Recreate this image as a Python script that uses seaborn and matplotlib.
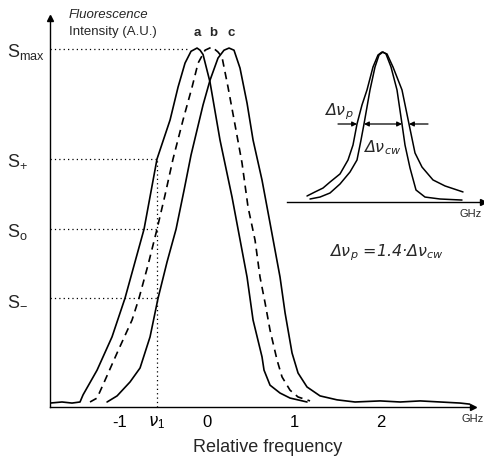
import numpy as np
import pandas as pd
import matplotlib
matplotlib.use("Agg")
import matplotlib.pyplot as plt
import seaborn as sns

sns.set_theme(style="white")
plt.rcParams['font.family'] = ['Liberation Sans', 'DejaVu Sans']
plt.rcParams['mathtext.fontset'] = 'dejavusans'
plt.rcParams['mathtext.default'] = 'regular'

# ---------------- data (main chart) ----------------
a_x = [-1.805, -1.667, -1.552, -1.46, -1.425, -1.264, -1.092, -0.943, -0.724, -0.575,
       -0.425, -0.333, -0.253, -0.184, -0.115, -0.080, -0.046, 0.034, 0.149, 0.287,
       0.46, 0.529, 0.632, 0.655, 0.724, 0.839, 0.954, 1.149]
a_y = [0.011, 0.014, 0.011, 0.014, 0.034, 0.103, 0.196, 0.304, 0.497, 0.693,
       0.802, 0.894, 0.961, 0.994, 1.003, 0.997, 0.985, 0.908, 0.746, 0.587,
       0.363, 0.243, 0.140, 0.103, 0.061, 0.039, 0.025, 0.014]

b_x = [-1.345, -1.264, -1.172, -1.034, -0.862, -0.782, -0.678, -0.575, -0.483, -0.391,
       -0.276, -0.172, -0.103, -0.023, 0.057, 0.126, 0.172, 0.241, 0.322, 0.402,
       0.471, 0.552, 0.609, 0.667, 0.724, 0.805, 0.862, 0.954, 1.046, 1.184]
b_y = [0.014, 0.025, 0.075, 0.151, 0.243, 0.304, 0.397, 0.497, 0.592, 0.693,
       0.802, 0.894, 0.961, 0.997, 1.006, 0.992, 0.978, 0.894, 0.788, 0.682,
       0.559, 0.466, 0.363, 0.291, 0.215, 0.131, 0.084, 0.047, 0.028, 0.017]

c_x = [-1.149, -1.034, -0.885, -0.770, -0.655, -0.563, -0.460, -0.356, -0.264, -0.184,
       -0.115, -0.046, 0.034, 0.126, 0.195, 0.253, 0.310, 0.379, 0.460, 0.529,
       0.632, 0.724, 0.839, 0.897, 0.977, 1.046, 1.149, 1.299, 1.494, 1.701,
       1.99, 2.22, 2.45, 2.68, 2.91, 3.02]
c_y = [0.014, 0.031, 0.070, 0.109, 0.196, 0.304, 0.405, 0.497, 0.606, 0.704,
       0.774, 0.844, 0.913, 0.975, 0.997, 1.003, 0.997, 0.947, 0.849, 0.746,
       0.634, 0.514, 0.363, 0.263, 0.151, 0.095, 0.056, 0.031, 0.020, 0.014,
       0.017, 0.014, 0.017, 0.014, 0.011, 0.008]

curve_labels = ['a', 'b', 'c']
label_x = [-0.115, 0.069, 0.276]

level_names = [r'S$_{max}$', r'S$_{+}$', r'S$_{o}$', r'S$_{-}$']
level_vals = [1.0, 0.693, 0.497, 0.304]
nu1 = -0.575

xtick_vals = [-1, nu1, 0, 1, 2]
xtick_text = ['-1', r'$\mathit{\nu}_1$', '0', '1', '2']

# ---------------- data (inset) ----------------
p_x = [-1.875, -1.675, -1.475, -1.3, -1.05, -0.85, -0.725, -0.625, -0.5, -0.375,
       -0.225, -0.1, 0.0, 0.125, 0.275, 0.5, 0.675, 0.825, 1.0, 1.275, 1.575, 2.025]
p_y = [0.04, 0.067, 0.093, 0.133, 0.187, 0.28, 0.38, 0.52, 0.647, 0.747,
       0.9, 0.98, 1.0, 0.987, 0.9, 0.747, 0.52, 0.327, 0.233, 0.147, 0.107, 0.067]

cw_x = [-1.8, -1.55, -1.3, -1.05, -0.8, -0.625, -0.525, -0.45, -0.3, -0.175,
        -0.075, 0.025, 0.1, 0.225, 0.375, 0.5, 0.575, 0.7, 0.85, 1.075, 1.45, 2.0]
cw_y = [0.02, 0.033, 0.06, 0.12, 0.2, 0.28, 0.413, 0.52, 0.747, 0.9,
        0.98, 1.0, 0.987, 0.9, 0.747, 0.52, 0.38, 0.227, 0.08, 0.033, 0.02, 0.013]

W, H = 485, 465
fig = plt.figure(figsize=(W / 100, H / 100), dpi=100)
fig.patch.set_facecolor('white')

def fx(px):
    return px / W

def fy(py):
    return 1 - py / H

# main axes: px 50..473 horizontally, py 18..407 vertically
ax = fig.add_axes([fx(50), fy(407), (473 - 50) / W, (407 - 18) / H])
ax.set_xlim(-1.805, 3.057)
ax.set_ylim(0, 1.087)

lw = 1.2
dfa = pd.DataFrame({'x': a_x, 'y': a_y})
dfb = pd.DataFrame({'x': b_x, 'y': b_y})
dfc = pd.DataFrame({'x': c_x, 'y': c_y})
sns.lineplot(data=dfa, x='x', y='y', ax=ax, color='black', lw=lw, sort=False, estimator=None)
sns.lineplot(data=dfb, x='x', y='y', ax=ax, color='black', lw=lw, sort=False, estimator=None)
ax.lines[-1].set_dashes((4.5, 3.2))
sns.lineplot(data=dfc, x='x', y='y', ax=ax, color='black', lw=lw, sort=False, estimator=None)

# dotted guide lines
dot = dict(color='black', lw=0.9, ls=(0, (1, 2.5)))
ax.plot([-1.805, -0.195], [level_vals[0]] * 2, **dot)
for v in level_vals[1:]:
    ax.plot([-1.805, nu1], [v, v], **dot)
ax.plot([nu1, nu1], [0, level_vals[1]], **dot)

for t, x in zip(curve_labels, label_x):
    ax.text(x, 1.045, t, ha='center', va='center', fontsize=9.5, fontweight='bold')

for s in ['top', 'right']:
    ax.spines[s].set_visible(False)
for s in ['left', 'bottom']:
    ax.spines[s].set_color('black')
    ax.spines[s].set_linewidth(1.0)

ax.set_xticks(xtick_vals)
ax.set_xticklabels(xtick_text, fontsize=12)
ax.tick_params(axis='x', direction='inout', length=5, width=0.9, pad=3, colors='black')
ax.set_yticks(level_vals)
ax.set_yticklabels(level_names, fontsize=13)
ax.tick_params(axis='y', length=0, pad=31)
for lab in ax.get_yticklabels():
    lab.set_horizontalalignment('left')
ax.set_xlabel('Relative frequency', fontsize=13)
ax.xaxis.set_label_coords(0.515, -0.082)
ax.set_ylabel('')

# axis arrows
ax.plot(1.0, 0, marker='>', color='black', ms=5, transform=ax.transAxes, clip_on=False)
ax.plot(0, 1.0, marker='^', color='black', ms=5, transform=ax.transAxes, clip_on=False)

fig.text(fx(473), fy(419), 'GHz', fontsize=8, ha='center', va='center')
fig.text(fx(69), fy(15), 'Fluorescence', fontsize=9.5, style='italic', ha='left', va='center')
fig.text(fx(69), fy(32), 'Intensity (A.U.)', fontsize=9.5, ha='left', va='center')

# ---------------- inset ----------------
ix = fig.add_axes([fx(287), fy(202), (485 - 287) / W, (202 - 40) / H])
ix.set_xlim(-2.375, 2.575)
ix.set_ylim(0, 1.08)
ix.patch.set_alpha(0)
dfp = pd.DataFrame({'x': p_x, 'y': p_y})
dfcw = pd.DataFrame({'x': cw_x, 'y': cw_y})
sns.lineplot(data=dfp, x='x', y='y', ax=ix, color='black', lw=1.1, sort=False, estimator=None)
sns.lineplot(data=dfcw, x='x', y='y', ax=ix, color='black', lw=1.1, sort=False, estimator=None)
for s in ['top', 'right', 'left']:
    ix.spines[s].set_visible(False)
ix.spines['bottom'].set_color('black')
ix.spines['bottom'].set_linewidth(1.0)
ix.set_xticks([])
ix.set_yticks([])
ix.set_xlabel('')
ix.set_ylabel('')
ix.plot(0.99, 0, marker='>', color='black', ms=5, transform=ix.transAxes, clip_on=False)

ya = 0.52
arr = dict(arrowstyle='-|>', color='black', lw=0.9, mutation_scale=7, shrinkA=0, shrinkB=0)
ix.annotate('', xy=(-0.625, ya), xytext=(-1.1, ya), arrowprops=arr)
ix.annotate('', xy=(0.675, ya), xytext=(1.15, ya), arrowprops=arr)
ix.annotate('', xy=(-0.45, ya), xytext=(0.5, ya),
            arrowprops=dict(arrowstyle='<|-|>', color='black', lw=0.9, mutation_scale=7,
                            shrinkA=0, shrinkB=0))
ifont = dict(fontsize=11.5, style='italic', family=['DejaVu Sans'])
ix.text(-1.08, 0.60, 'Δν$_{p}$', ha='center', va='center', **ifont)
ix.text(-0.48, 0.36, 'Δν$_{cw}$', ha='left', va='center', **ifont)

fig.text(fx(471), fy(214), 'GHz', fontsize=8, ha='center', va='center')
fig.text(fx(386), fy(253), 'Δν$_{p}$ =1.4·Δν$_{cw}$', ha='center', va='center', **ifont)

fig.savefig('out.png', dpi=100, facecolor='white')
